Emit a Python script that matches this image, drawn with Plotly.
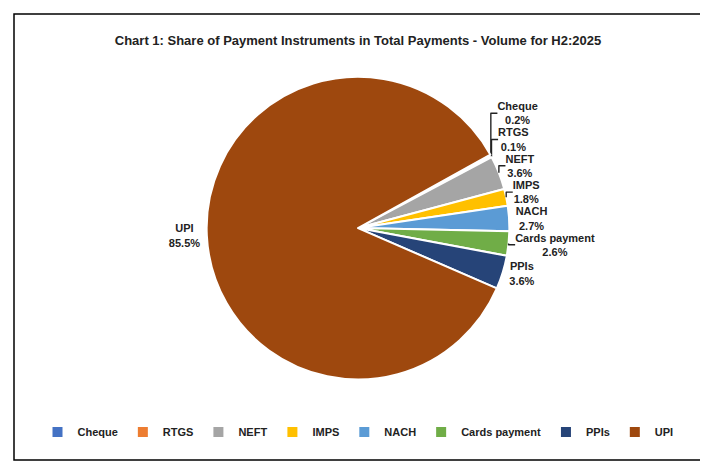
import plotly.graph_objects as go

labels = ["Cheque", "RTGS", "NEFT", "IMPS", "NACH", "Cards payment", "PPIs", "UPI"]
shares = [0.2, 0.1, 3.6, 1.8, 2.7, 2.6, 3.6, 85.5]
colors = ["#4472C4", "#ED7D31", "#A5A5A5", "#FFC000", "#5B9BD5", "#70AD47", "#264478", "#9E480E"]

text = [f"<b>{l}<br>{v}%</b>" for l, v in zip(labels, shares)]

fig = go.Figure(go.Pie(
    labels=[f"<b>{l}</b>" for l in labels],
    values=shares,
    text=text,
    textinfo="text",
    textposition="outside",
    sort=False,
    direction="clockwise",
    rotation=61,
    marker=dict(colors=colors, line=dict(color="white", width=2)),
    textfont=dict(family="Arial", size=11, color="#222222"),
    domain=dict(x=[0.28, 0.72], y=[0.15, 0.89]),
))

fig.update_layout(
    width=700, height=458,
    margin=dict(l=6, r=6, t=6, b=6),
    paper_bgcolor="white",
    font=dict(family="Arial", color="#222222"),
    title=dict(text="<b>Chart 1: Share of Payment Instruments in Total Payments - Volume for H2:2025</b>",
               x=0.5, y=0.94, xanchor="center", font=dict(size=13)),
    legend=dict(orientation="h", x=0.5, xanchor="center", y=0.03, yanchor="bottom",
                font=dict(size=11), itemwidth=30),
    shapes=[dict(type="rect", xref="paper", yref="paper", x0=0, x1=1, y0=0, y1=1,
                 line=dict(color="black", width=1.5))],
)

fig.write_html("out.html")
